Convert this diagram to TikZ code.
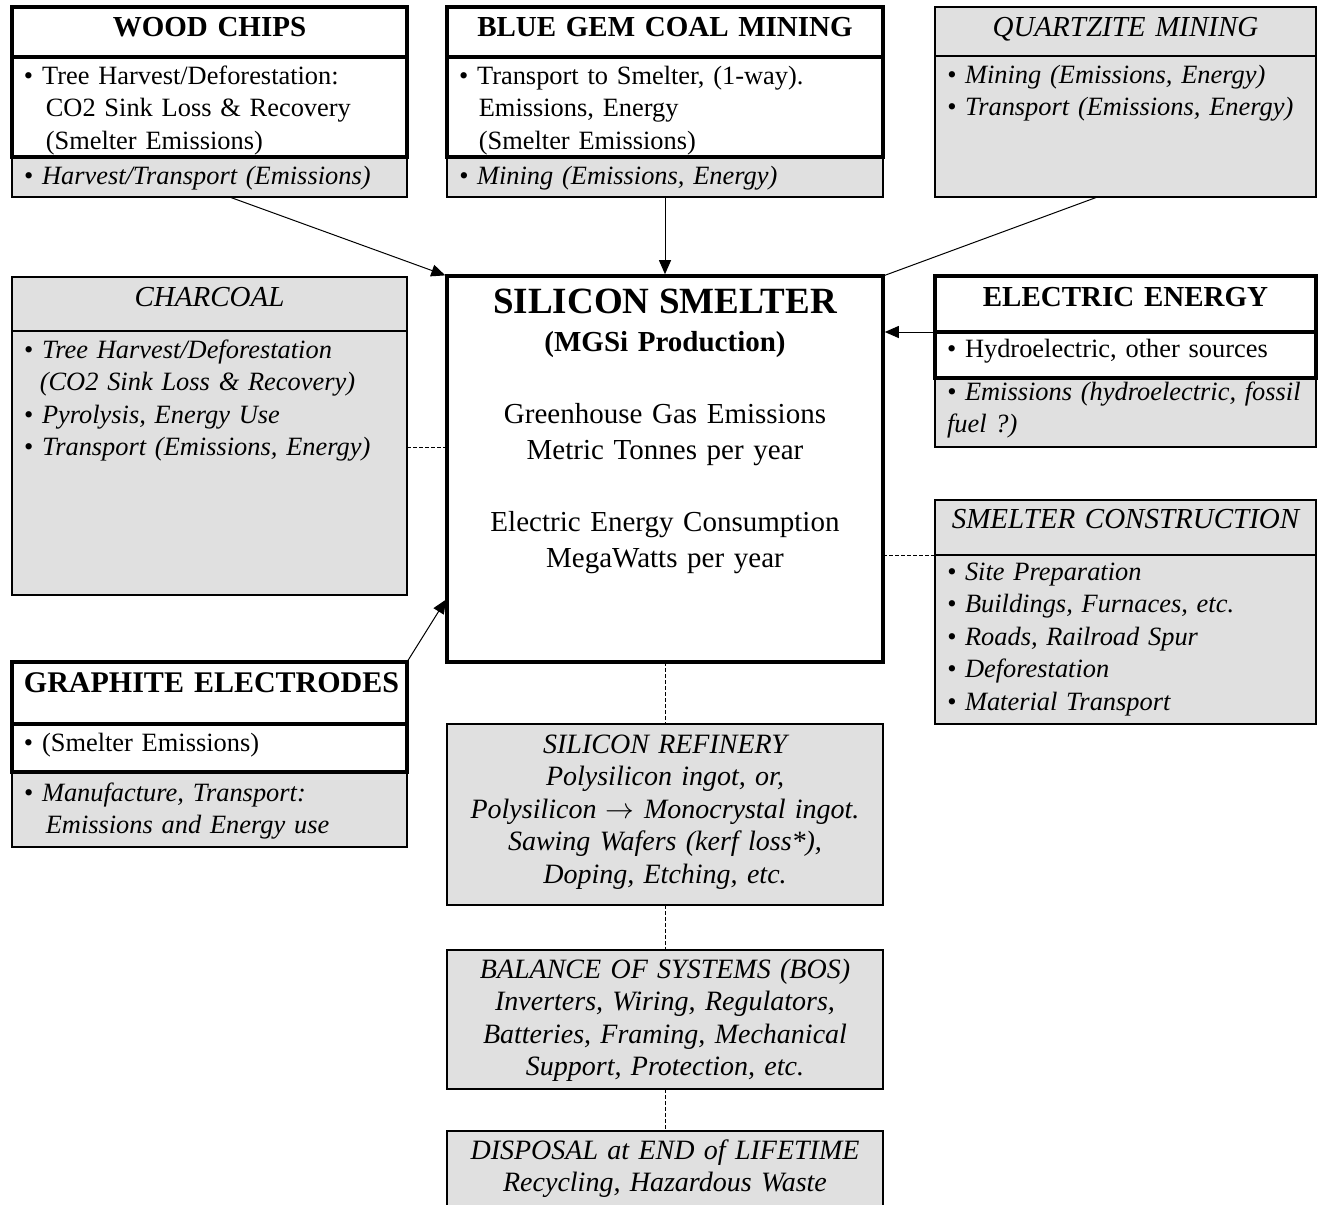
\documentclass[tikz,border=0pt]{standalone}
\usepackage{fontspec}
\setmainfont{Liberation Serif}
\usetikzlibrary{arrows.meta}
\newcommand{\bitem}{\hangindent=0.6em\hangafter=1\textbullet\ }
\tikzset{
  part/.style={draw, anchor=north west, outer sep=0pt, inner xsep=6pt, inner ysep=3pt,
    line width=0.9pt, font=\fontsize{13.2}{16.25}\selectfont},
  heavy/.style={part, line width=1.8pt, fill=white},
  shade/.style={part, fill=black!12, font=\fontsize{13.2}{16.25}\selectfont\itshape},
  boxsize/.style n args={3}{minimum width=#1, text width=#1-12pt, text height=#3, text depth=#2-#3-6pt},
  head/.style={align=center, font=\fontsize{14.5}{16.25}\selectfont\bfseries},
  ihead/.style={align=center, font=\fontsize{14.5}{16.25}\selectfont\itshape},
  stage/.style={shade, align=center, font=\fontsize{14}{16.25}\selectfont\itshape},
  feed/.style={-{Triangle[length=7pt,width=6pt]}, line width=0.5pt},
  link/.style={line width=0.5pt, dash pattern=on 2pt off 1pt},
}
\begin{document}
\begin{tikzpicture}[x=0.5pt, y=-0.5pt]
\useasboundingbox (0,0) rectangle (1319,1205);
\clip (0,0) rectangle (1319,1205);

% inputs, top row
\node[shade, align=left, boxsize={197.5pt}{20pt}{10.5pt}] (woodextra) at (12,157)
  {\mbox{\textbullet\ Harvest/Transport (Emissions)}};
\node[heavy, head, boxsize={197.5pt}{25pt}{11.5pt}] (woodtitle) at (12,7) {WOOD CHIPS};
\node[heavy, align=left, boxsize={197.5pt}{50pt}{10.5pt}] (woodbody) at (12,57)
  {\bitem Tree Harvest/Deforestation:\newline\hspace*{3pt}CO2 Sink Loss \& Recovery\newline\hspace*{3pt}(Smelter Emissions)\par};

\node[shade, align=left, boxsize={218pt}{20pt}{10.5pt}] (coalextra) at (447,157)
  {\textbullet\ Mining (Emissions, Energy)};
\node[heavy, head, boxsize={218pt}{25pt}{11.5pt}] (coaltitle) at (447,7) {BLUE GEM COAL MINING};
\node[heavy, align=left, boxsize={218pt}{50pt}{10.5pt}] (coalbody) at (447,57)
  {\bitem Transport to Smelter, (1-way).\newline\hspace*{2pt}Emissions, Energy\newline\hspace*{2pt}(Smelter Emissions)\par};

\node[shade, ihead, boxsize={190.5pt}{24.5pt}{11.5pt}] (quartztitle) at (935,7) {QUARTZITE MINING};
\node[shade, align=left, boxsize={190.5pt}{70.5pt}{10.5pt}] (quartzbody) at (935,56)
  {\bitem Mining (Emissions, Energy)\par\bitem \mbox{Transport (Emissions, Energy)}};

% middle row
\node[shade, ihead, boxsize={197.5pt}{27pt}{11.5pt}] (chartitle) at (12,277) {CHARCOAL};
\node[shade, align=left, boxsize={197.5pt}{132pt}{10.5pt}] (charbody) at (12,331)
  {\bitem Tree Harvest/Deforestation\newline (CO2 Sink Loss \& Recovery)\par
   \bitem Pyrolysis, Energy Use\par
   \bitem \mbox{Transport (Emissions, Energy)}};

\node[heavy, align=center, boxsize={218pt}{193pt}{15.5pt}, font=\fontsize{14.5}{18}\selectfont] (smelter) at (447,276)
  {{\fontsize{18.5}{18}\selectfont\bfseries SILICON SMELTER}\\[1pt]
   {\bfseries (MGSi Production)}\\[18pt]
   Greenhouse Gas Emissions\\ Metric Tonnes per year\\[18pt]
   Electric Energy Consumption\\ MegaWatts per year};

\node[shade, align=left, boxsize={190.5pt}{34.5pt}{8pt}] (elecextra) at (935,378)
  {\mbox{\textbullet\ Emissions (hydroelectric, fossil}\newline fuel ?)};
\node[heavy, head, boxsize={190.5pt}{28pt}{12pt}] (electitle) at (935,276) {ELECTRIC ENERGY};
\node[heavy, align=left, boxsize={190.5pt}{23pt}{9.5pt}] (elecbody) at (935,332)
  {\textbullet\ Hydroelectric, other sources};

\node[shade, ihead, boxsize={190.5pt}{27.5pt}{11pt}] (constitle) at (935,500) {\mbox{SMELTER CONSTRUCTION}};
\node[shade, align=left, boxsize={190.5pt}{84.5pt}{9.5pt}] (consbody) at (935,555)
  {\bitem Site Preparation\par\bitem Buildings, Furnaces, etc.\par\bitem Roads, Railroad Spur\par
   \bitem Deforestation\par\bitem Material Transport};

% graphite
\node[shade, align=left, boxsize={197.5pt}{37.5pt}{11.5pt}] (graphextra) at (12,772)
  {\bitem Manufacture, Transport:\newline\hspace*{3pt}Emissions and Energy use\par};
\node[heavy, head, boxsize={197.5pt}{31pt}{12pt}, font=\fontsize{15}{16.25}\selectfont\bfseries] (graphtitle) at (12,662)
  {\mbox{GRAPHITE ELECTRODES}};
\node[heavy, align=left, boxsize={197.5pt}{24pt}{10.5pt}] (graphbody) at (12,724)
  {\textbullet\ (Smelter Emissions)};

% downstream chain
\node[stage, boxsize={218pt}{90.5pt}{11.5pt}] (refinery) at (447,724)
  {SILICON REFINERY\\ Polysilicon ingot, or,\\ Polysilicon $\rightarrow$ Monocrystal ingot.\\
   Sawing Wafers (kerf loss*),\\ Doping, Etching, etc.};
\node[stage, boxsize={218pt}{69.5pt}{11pt}] (bos) at (447,950)
  {BALANCE OF SYSTEMS (BOS)\\ Inverters, Wiring, Regulators,\\ Batteries, Framing, Mechanical\\
   Support, Protection, etc.};
\node[stage, boxsize={218pt}{49.5pt}{11pt}] (disposal) at (447,1131)
  {\mbox{DISPOSAL at END of LIFETIME}\\ Recycling, Hazardous Waste};

% connectors
\draw[feed, shorten >=0.9pt] ([xshift=10pt]woodextra.south) -- (smelter.north west);
\draw[feed, shorten >=0.9pt] (coalextra.south) -- (smelter.north);
\draw[line width=0.5pt] ([xshift=-14pt]quartzbody.south) -- (smelter.north east);
\draw[feed, shorten >=0.9pt] (elecbody.north west) -- (elecbody.north west -| smelter.east);
\draw[link] ([yshift=8pt]charbody.east) -- ([yshift=8pt]charbody.east -| smelter.west);
\draw[link] (consbody.north west -| smelter.east) -- (consbody.north west);
\draw[feed, shorten >=0.9pt] (graphtitle.north east) -- ([yshift=32pt]smelter.south west);
\draw[link] (smelter.south) -- (refinery.north);
\draw[link] (refinery.south) -- (bos.north);
\draw[link] (bos.south) -- (disposal.north);
\end{tikzpicture}
\end{document}
